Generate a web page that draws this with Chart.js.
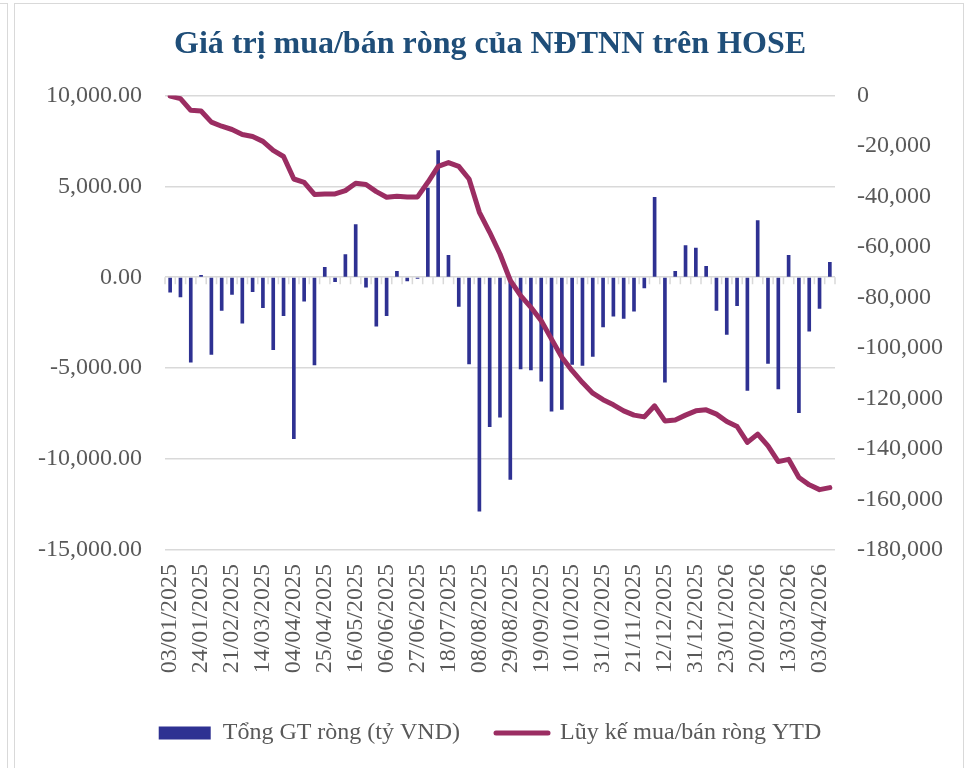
<!DOCTYPE html>
<html>
<head>
<meta charset="utf-8">
<script src="https://cdn.jsdelivr.net/npm/chart.js@4/dist/chart.umd.min.js"></script>
<style>
  html, body { margin: 0; padding: 0; background: #fff; overflow: hidden; }
  #wrap { position: relative; width: 966px; height: 768px; }
  .frame { position: absolute; border: 1.5px solid #d9d9d9; pointer-events: none; }
</style>
</head>
<body>
<div id="wrap">
  <div class="frame" style="left:-100px; top:3px; width:106px; height:900px;"></div>
  <div class="frame" style="left:14px; top:3px; width:948px; height:900px;"></div>
  <canvas id="flowChart" width="966" height="768"></canvas>
</div>
<script>
// Tuần giao dịch (ngày cuối tuần)
const weeks = [
  '03/01/2025','10/01/2025','17/01/2025','24/01/2025','07/02/2025','14/02/2025','21/02/2025','28/02/2025','07/03/2025','14/03/2025',
  '21/03/2025','28/03/2025','04/04/2025','11/04/2025','18/04/2025','25/04/2025','02/05/2025','09/05/2025','16/05/2025','23/05/2025',
  '30/05/2025','06/06/2025','13/06/2025','20/06/2025','27/06/2025','04/07/2025','11/07/2025','18/07/2025','25/07/2025','01/08/2025',
  '08/08/2025','15/08/2025','22/08/2025','29/08/2025','05/09/2025','12/09/2025','19/09/2025','26/09/2025','03/10/2025','10/10/2025',
  '17/10/2025','24/10/2025','31/10/2025','07/11/2025','14/11/2025','21/11/2025','28/11/2025','05/12/2025','12/12/2025','19/12/2025',
  '26/12/2025','31/12/2025','09/01/2026','16/01/2026','23/01/2026','30/01/2026','06/02/2026','20/02/2026','27/02/2026','06/03/2026',
  '13/03/2026','20/03/2026','27/03/2026','03/04/2026','10/04/2026'
];

// Nhãn trục hoành được hiển thị
const shownDates = [
  '03/01/2025','24/01/2025','21/02/2025','14/03/2025','04/04/2025','25/04/2025','16/05/2025','06/06/2025','27/06/2025','18/07/2025','08/08/2025',
  '29/08/2025','19/09/2025','10/10/2025','31/10/2025','21/11/2025','12/12/2025','31/12/2025','23/01/2026','20/02/2026','13/03/2026','03/04/2026'
];

// Tổng GT ròng theo tuần (tỷ VND)
const netWeekly = [
  -820, -1080, -4670, 110, -4250, -1830, -950, -2530, -790, -1680,
  -3990, -2110, -8880, -1320, -4820, 550, -240, 1250, 2890, -550,
  -2690, -2110, 330, -200, -60, 4900, 6960, 1210, -1610, -4760,
  -12860, -8220, -7690, -11120, -5040, -5090, -5710, -7360, -7270, -4800,
  -4850, -4360, -2730, -2140, -2270, -1870, -590, 4400, -5770, 330,
  1740, 1610, 600, -1830, -3150, -1560, -6230, 3110, -4740, -6140,
  1210, -7450, -2970, -1720, 820
];

// Lũy kế mua/bán ròng YTD (tỷ VND)
const cumulativeYTD = [
  -300, -1300, -5900, -6200, -10600, -12200, -13500, -15500, -16300, -18200,
  -21800, -24200, -33100, -34400, -39200, -39000, -39000, -37700, -34800, -35300,
  -38100, -40300, -39900, -40200, -40200, -34400, -28100, -26600, -28100, -33100,
  -46300, -54200, -62800, -73300, -79300, -83900, -89200, -96500, -103700, -109000,
  -113700, -117900, -120500, -122500, -124900, -126600, -127300, -122900, -128900, -128500,
  -126600, -124900, -124500, -126200, -129100, -131100, -137400, -134100, -138800, -145000,
  -144100, -151300, -154200, -156100, -155300
];

// Giới hạn các trục
const leftAxis = { min: -15000, max: 10000, step: 5000 };
const rightAxis = { min: -180000, max: 0, step: 20000 };

const BAR_COLOR = '#2E3192';
const LINE_COLOR = '#9B2D62';
const TEXT_COLOR = '#595959';
const GRID_COLOR = '#d9d9d9';
const SERIF = "'Liberation Serif', 'DejaVu Serif', serif";

// vạch chia nhỏ trên đường 0 (giống trục hoành của Excel)
const zeroTicks = {
    id: 'zeroTicks',
    beforeDatasetsDraw(chart) {
        const x = chart.scales.x;
        const y = chart.scales.y;
        const y0 = y.getPixelForValue(0);
        const n = weeks.length;
        const ctx = chart.ctx;
        ctx.save();
        ctx.strokeStyle = GRID_COLOR;
        ctx.lineWidth = 1.5;
        ctx.beginPath();
        for (let i = 0; i <= n; i++) {
            const px = x.left + i * (x.width / n);
            ctx.moveTo(px, y0);
            ctx.lineTo(px, y0 + 7);
        }
        ctx.stroke();
        ctx.restore();
    }
};

const ctx = document.getElementById('flowChart').getContext('2d');
new Chart(ctx, {
    type: 'bar',
    data: {
        labels: weeks,
        datasets: [
            {
                type: 'bar',
                label: 'Tổng GT ròng (tỷ VND)',
                data: netWeekly,
                backgroundColor: BAR_COLOR,
                barThickness: 3,
                yAxisID: 'y',
                order: 2
            },
            {
                type: 'line',
                label: 'Lũy kế mua/bán ròng YTD',
                data: cumulativeYTD,
                borderColor: LINE_COLOR,
                backgroundColor: LINE_COLOR,
                borderWidth: 5,
                pointRadius: 0,
                tension: 0,
                borderJoinStyle: 'round',
                borderCapStyle: 'round',
                yAxisID: 'y1',
                order: 1
            }
        ]
    },
    options: {
        responsive: false,
        animation: false,
        layout: { padding: { left: 14, right: 0, top: 0, bottom: 13 } },
        plugins: {
            title: {
                display: true,
                text: 'Giá trị mua/bán ròng của NĐTNN trên HOSE',
                color: '#1F4E79',
                font: { family: SERIF, size: 32, weight: 'bold' },
                padding: { top: 26, bottom: 31 }
            },
            legend: {
                position: 'bottom',
                labels: {
                    color: TEXT_COLOR,
                    font: { family: SERIF, size: 24 },
                    usePointStyle: true,
                    pointStyleWidth: 52,
                    boxHeight: 13,
                    padding: 36,
                    sort: (a, b) => a.datasetIndex - b.datasetIndex,
                    generateLabels(chart) {
                        const items = Chart.defaults.plugins.legend.labels.generateLabels(chart);
                        items.forEach(item => {
                            if (item.datasetIndex === 1) {
                                item.pointStyle = 'line';
                                item.lineWidth = 5;
                                item.strokeStyle = LINE_COLOR;
                                item.lineCap = 'round';
                            } else {
                                item.pointStyle = 'rect';
                                item.lineWidth = 0;
                                item.fillStyle = BAR_COLOR;
                            }
                        });
                        return items;
                    }
                }
            },
            tooltip: { enabled: false }
        },
        scales: {
            x: {
                offset: true,
                grid: { display: false },
                border: { display: false },
                ticks: {
                    autoSkip: false,
                    maxRotation: 90,
                    minRotation: 90,
                    padding: 6,
                    color: TEXT_COLOR,
                    font: { family: SERIF, size: 24 },
                    callback: function (value) {
                        const lbl = this.getLabelForValue(value);
                        return shownDates.includes(lbl) ? lbl : '';
                    }
                },
                afterFit: (scale) => { scale.height = 135; }
            },
            y: {
                position: 'left',
                min: leftAxis.min,
                max: leftAxis.max,
                grid: { color: GRID_COLOR, lineWidth: 1.5, drawTicks: false },
                border: { display: false },
                ticks: {
                    stepSize: leftAxis.step,
                    padding: 23,
                    color: TEXT_COLOR,
                    font: { family: SERIF, size: 24 },
                    callback: (v) => v.toLocaleString('en-US', { minimumFractionDigits: 2, maximumFractionDigits: 2 })
                },
                afterFit: (scale) => { scale.width = 151; }
            },
            y1: {
                position: 'right',
                min: rightAxis.min,
                max: rightAxis.max,
                grid: { display: false, drawTicks: false },
                border: { display: false },
                ticks: {
                    stepSize: rightAxis.step,
                    padding: 22,
                    color: TEXT_COLOR,
                    font: { family: SERIF, size: 24 },
                    callback: (v) => v.toLocaleString('en-US')
                },
                afterFit: (scale) => { scale.width = 131; }
            }
        }
    },
    plugins: [zeroTicks]
});
</script>
</body>
</html>
